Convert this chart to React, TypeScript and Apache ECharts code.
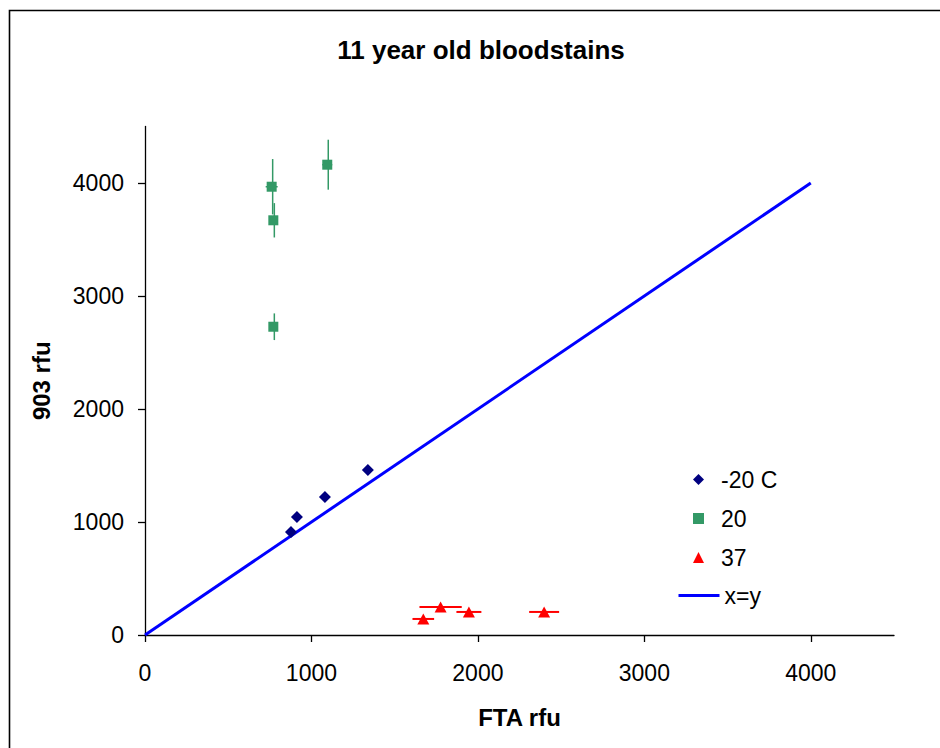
import React, { useEffect, useRef } from "react";
import * as echarts from "echarts";

const FONT = "'Liberation Sans', Arial, sans-serif";

const titleText = "11 year old bloodstains";
const xAxisName = "FTA rfu";
const yAxisName = "903 rfu";
const tickValues = [0, 1000, 2000, 3000, 4000];

// -20 C
const coldX = [877, 913, 1081, 1339];
const coldY = [912, 1044, 1221, 1460];

// 20
const roomX = [761, 771, 1095, 771];
const roomY = [3967, 3670, 4162, 2728];
const roomXErr = [36, 25, 30, 25];
const roomYErr = [245, 152, 221, 118];

// 37
const hotX = [1672, 1776, 1946, 2398];
const hotY = [142, 248, 204, 204];
const hotXErr = [65, 127, 75, 90];
const hotYErr = [0, 0, 0, 0];

// x = y line
const lineX = [0, 4000];
const lineY = [0, 4000];

const NAVY = "#000080";
const GREEN = "#339966";
const RED = "#FF0000";
const BLUE = "#0000FF";

function errorBarSeries(xs: number[], ys: number[], xe: number[], ye: number[], color: string, width: number) {
  return {
    type: "custom",
    name: "err-" + color,
    silent: true,
    z: 1,
    data: xs.map((x, i) => [x, ys[i], xe[i], ye[i]]),
    encode: { x: 0, y: 1 },
    renderItem: (params: any, api: any) => {
      const x = api.value(0);
      const y = api.value(1);
      const ex = api.value(2);
      const ey = api.value(3);
      const children: any[] = [];
      if (ey > 0) {
        const a = api.coord([x, y - ey]);
        const b = api.coord([x, y + ey]);
        children.push({
          type: "line",
          shape: { x1: a[0] + 1, y1: a[1], x2: b[0] + 1, y2: b[1] },
          style: { stroke: color, lineWidth: width },
        });
      }
      if (ex > 0) {
        const a = api.coord([x - ex, y]);
        const b = api.coord([x + ex, y]);
        children.push({
          type: "line",
          shape: { x1: a[0], y1: a[1], x2: b[0], y2: b[1] },
          style: { stroke: color, lineWidth: width },
        });
      }
      return { type: "group", children };
    },
  };
}

export default function App() {
  const ref = useRef<HTMLDivElement>(null);
  useEffect(() => {
    if (!ref.current) return;
    const chart = echarts.init(ref.current, undefined, { renderer: "svg" });
    const axisCommon = {
      type: "value",
      min: 0,
      max: 4500,
      interval: 1000,
      splitLine: { show: false },
      axisLine: { show: true, lineStyle: { color: "#000", width: 1.3 } },
      axisTick: { show: true, inside: false, length: 7, lineStyle: { color: "#000", width: 1.3 }, customValues: tickValues },
      nameTextStyle: { fontFamily: FONT, fontWeight: "bold", fontSize: 24, color: "#000" },
      nameLocation: "middle",
    };
    const labelCommon = {
      fontFamily: FONT,
      fontSize: 23,
      color: "#000",
      customValues: tickValues,
      formatter: (v: number) => String(v),
    };
    chart.setOption({
      animation: false,
      backgroundColor: "#fff",
      textStyle: { fontFamily: FONT },
      graphic: [
        {
          type: "rect",
          shape: { x: 9.5, y: 10.5, width: 1000, height: 1000 },
          style: { fill: "none", stroke: "#000", lineWidth: 1.6 },
          silent: true,
        },
        {
          type: "text",
          x: 481,
          y: 50,
          style: {
            text: titleText,
            fontFamily: FONT,
            fontWeight: "bold",
            fontSize: 26,
            fill: "#000",
            align: "center",
            verticalAlign: "middle",
          },
        },
      ],
      grid: { left: 145, right: 46, top: 126.5, bottom: 113, containLabel: false, outerBoundsMode: "none" },
      xAxis: {
        ...axisCommon,
        name: xAxisName,
        nameGap: 70,
        axisLabel: { ...labelCommon, margin: 26 },
      },
      yAxis: {
        ...axisCommon,
        name: yAxisName,
        nameGap: 92,
        axisLabel: { ...labelCommon, margin: 21 },
      },
      legend: [
        {
          orient: "vertical",
          left: 688,
          top: 463,
          itemWidth: 11,
          itemHeight: 11,
          itemGap: 16,
          textStyle: { fontFamily: FONT, fontSize: 23, color: "#000", padding: [0, 0, 0, 12] },
          data: [
            { name: "-20 C", icon: "diamond" },
            { name: "20", icon: "rect" },
            { name: "37", icon: "triangle" },
          ],
        },
        {
          orient: "vertical",
          left: 672,
          top: 579,
          itemWidth: 41,
          itemHeight: 3,
          lineStyle: { width: 3 },
          textStyle: { fontFamily: FONT, fontSize: 23, color: "#000" },
          data: [{ name: "x=y" }],
        },
      ],
      series: [
        {
          type: "line",
          name: "x=y",
          data: lineX.map((x, i) => [x, lineY[i]]),
          symbol: "rect",
          showSymbol: false,
          lineStyle: { color: BLUE, width: 3 },
          itemStyle: { color: BLUE },
          z: 2,
        },
        errorBarSeries(roomX, roomY, roomXErr, roomYErr, GREEN, 1.5),
        errorBarSeries(hotX, hotY, hotXErr, hotYErr, RED, 2),
        {
          type: "scatter",
          name: "-20 C",
          data: coldX.map((x, i) => [x, coldY[i]]),
          symbol: "diamond",
          symbolSize: 12,
          itemStyle: { color: NAVY, opacity: 1 },
          z: 3,
        },
        {
          type: "scatter",
          name: "20",
          data: roomX.map((x, i) => [x, roomY[i]]),
          symbol: "rect",
          symbolSize: 10,
          itemStyle: { color: GREEN, opacity: 1 },
          z: 3,
        },
        {
          type: "scatter",
          name: "37",
          data: hotX.map((x, i) => [x, hotY[i]]),
          symbol: "triangle",
          symbolSize: [12, 11],
          itemStyle: { color: RED, opacity: 1 },
          z: 3,
        },
      ],
    });
    return () => chart.dispose();
  }, []);
  return (
    <div
      ref={ref}
      style={{ position: "fixed", left: 0, top: 0, width: 940, height: 748, background: "#fff" }}
    />
  );
}
